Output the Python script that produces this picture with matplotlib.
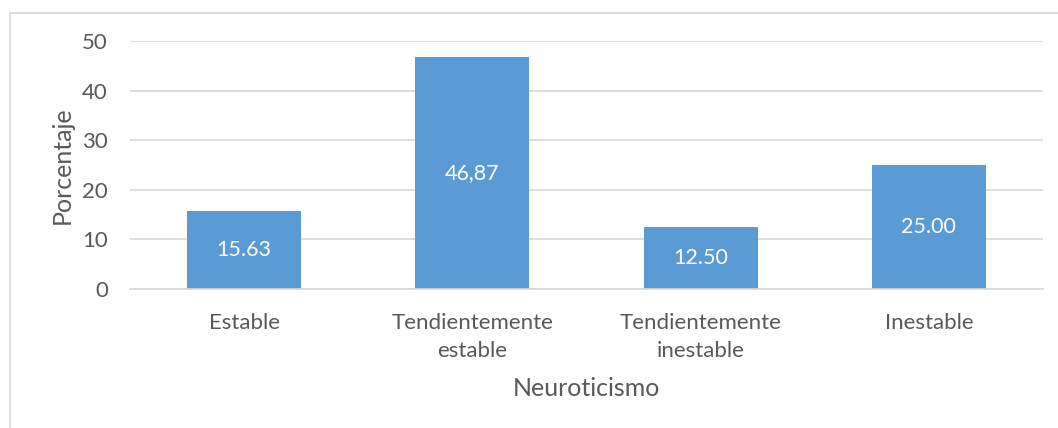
import matplotlib.pyplot as plt
from matplotlib.patches import Rectangle

# datos
categorias = ["Estable", "Tendientemente\nestable", "Tendientemente\ninestable", "Inestable"]
porcentajes = [15.63, 46.87, 12.50, 25.00]
etiquetas = ["15.63", "46,87", "12.50", "25.00"]

plt.rcParams['font.family'] = ['Lato', 'DejaVu Sans']
gris = "#595959"

fig = plt.figure(figsize=(10.58, 4.28), dpi=100)
ax = fig.add_axes([130 / 1058, 1 - 289 / 428, (1043 - 130) / 1058, (289 - 41) / 428])

barras = ax.bar(range(len(categorias)), porcentajes, width=0.5, color="#5B9BD5", zorder=2)
ax.bar_label(barras, labels=etiquetas, label_type='center', color="white", fontsize=15.5)

ax.set_xlim(-0.5, len(categorias) - 0.5)
ax.set_ylim(0, 50)
ax.set_yticks(range(0, 51, 10))
ax.set_xticks(range(len(categorias)))
ax.set_xticklabels(categorias, fontsize=16, color=gris, linespacing=1.5)
ax.tick_params(axis='y', labelsize=16, labelcolor=gris, length=0, pad=16)
ax.tick_params(axis='x', length=0, pad=17)

ax.grid(axis='y', color="#D9D9D9", linewidth=1.2, zorder=0)
for lado in ["top", "right", "left"]:
    ax.spines[lado].set_visible(False)
ax.spines["bottom"].set_color("#D9D9D9")
ax.spines["bottom"].set_linewidth(1.2)

ax.set_ylabel("Porcentaje", fontsize=18, color=gris, labelpad=6)
ax.set_xlabel("Neuroticismo", fontsize=18, color=gris, labelpad=12)

# marco del grafico
fig.patches.append(Rectangle((9.5 / 1058, -0.05), 1.1, 1 - 12.5 / 428 + 0.05,
                             transform=fig.transFigure, fill=False,
                             edgecolor="#D9D9D9", linewidth=1.2))

fig.savefig("out.png", dpi=100)
